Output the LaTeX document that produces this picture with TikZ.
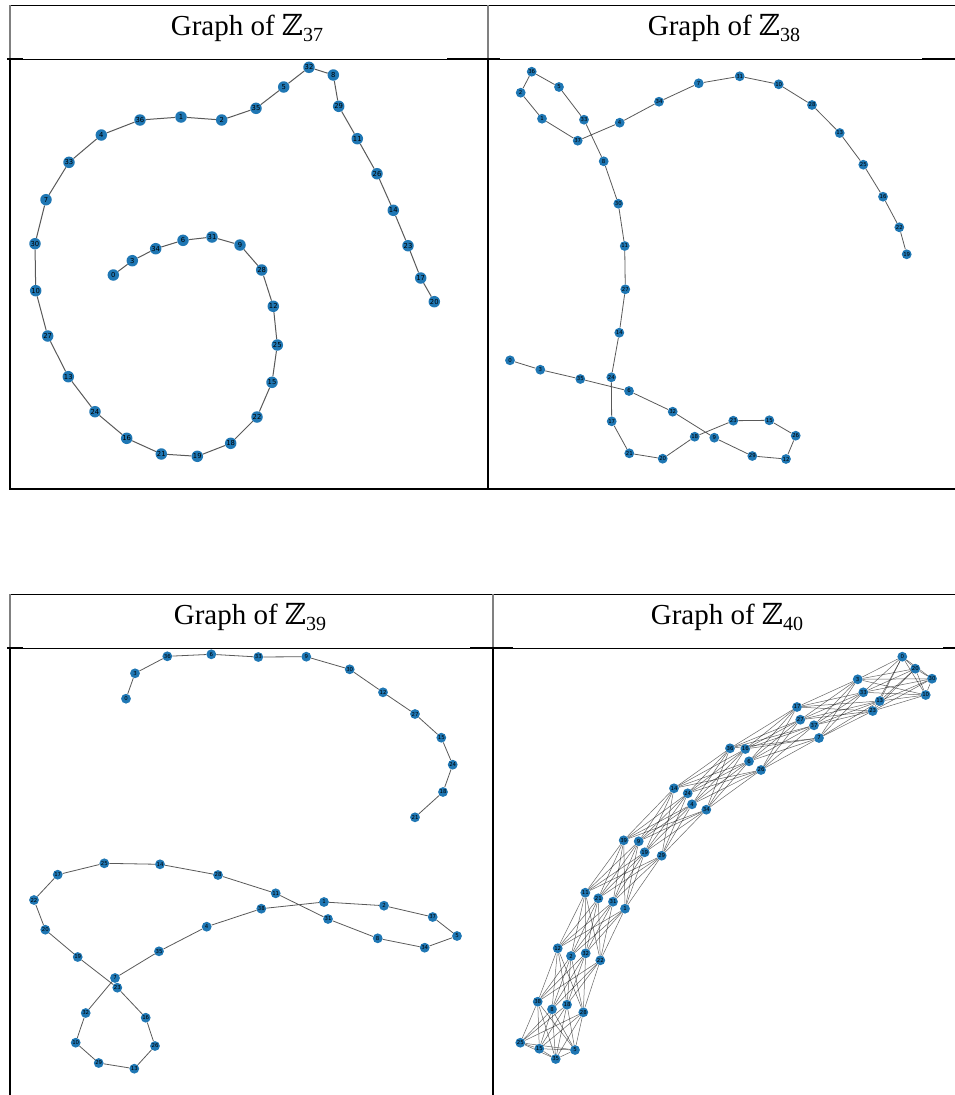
\documentclass[tikz,border=0pt]{standalone}
\usepackage{fontspec}
\setmainfont{Liberation Serif}
\newfontfamily\zfont{DejaVu Serif}
\newfontfamily\lblfont{DejaVu Sans}
\definecolor{mplblue}{HTML}{1F77B4}
\pgfdeclarelayer{bg}
\pgfsetlayers{bg,main}
\tikzset{
  tnode/.style={anchor=base, font=\fontsize{29}{34}\selectfont, inner sep=0pt},
  vbig/.style={circle, fill=mplblue, inner sep=0pt, minimum size=11.5pt, text=black, font=\lblfont\fontsize{6.8}{6.8}\selectfont},
  vsm/.style={circle, fill=mplblue, inner sep=0pt, minimum size=9.8pt, text=black, font=\lblfont\fontsize{5.4}{5.4}\selectfont},
  gedge/.style={draw=black!65, line width=1pt},
  gedgesm/.style={draw=black!65, line width=0.8pt},
  gdense/.style={draw=black, draw opacity=0.6, line width=0.5pt},
  tline/.style={draw=black, line width=1pt},
  tbold/.style={draw=black, line width=2pt},
  hdrv/.style={draw=black!50, line width=2pt},
  bodyv/.style={draw=black, line width=2pt},
}
\newcommand\ZZ[1]{{\zfont ℤ}\raisebox{-6pt}{\fontsize{20}{20}\selectfont #1}}
\begin{document}
\begin{tikzpicture}[x=1pt,y=-1pt]
\useasboundingbox (0,0) rectangle (955,1095);
% ---------- table frames ----------
% top table
\draw[tline] (10,5) -- (955,5);
\draw[hdrv] (10,5) -- (10,59);
\draw[hdrv] (488,5) -- (488,59);
\draw[tline] (10,59) -- (955,59);
\draw[tbold] (7,59) -- (23,59);
\draw[tbold] (447,59) -- (500,59);
\draw[tbold] (922,59) -- (955,59);
\draw[bodyv] (10,59) -- (10,489);
\draw[bodyv] (488,59) -- (488,489);
\draw[draw=black, line width=1.8pt] (9,489) -- (955,489);
% bottom table
\draw[tline] (10,594) -- (955,594);
\draw[hdrv] (10,594) -- (10,648);
\draw[hdrv] (493,594) -- (493,648);
\draw[tline] (10,648) -- (955,648);
\draw[tbold] (7,648) -- (23,648);
\draw[tbold] (470,648) -- (513,648);
\draw[tbold] (943,648) -- (955,648);
\draw[bodyv] (10,648) -- (10,1095);
\draw[bodyv] (493,648) -- (493,1095);
% ---------- titles ----------
\node[tnode] (t37) at (247,35) {Graph of \ZZ{37}};
\node[tnode] (t38) at (724,35) {Graph of \ZZ{38}};
\node[tnode] (t39) at (250,624) {Graph of \ZZ{39}};
\node[tnode] (t40) at (727,624) {Graph of \ZZ{40}};
% ---------- Z37 ----------
\foreach \n/\x/\y in {32/309/67.3, 8/333.3/75, 5/283.7/87, 35/256/108.3, 2/221.7/120, 1/181/117, 36/140/120, 4/101.3/135, 33/69/162.3, 7/46/199.7, 30/35/243.7, 29/338.7/106.3, 11/357.3/138.7, 26/377/173.7, 14/393.3/210.3, 23/408/245.7, 6/183/240.3, 31/212/237, 9/240/245, 34/155.7/248.7, 3/132.3/260.7, 0/113.3/275, 28/261.7/270, 12/273.3/306.3, 25/277.3/345, 15/272/382.3, 22/257/417, 18/230.7/443.3, 19/197.3/456.3, 21/161.3/454, 16/126.7/438.3, 24/95/411.7, 13/68.3/376.7, 27/47.7/336, 10/35.7/290.7, 17/420.7/278, 20/434.3/301.7}
  \node[vbig] (a\n) at (\x,\y) {\n};
% ---------- Z38 ----------
\foreach \n/\x/\y in {36/531.7/71.7, 5/559/87, 2/520.7/92.7, 1/542/118.7, 33/584/119.7, 37/577.7/140.7, 4/619.7/122.7, 34/659/101.7, 7/698.7/83.3, 31/739.7/76.3, 10/778.7/84.3, 28/812/105, 13/839.7/133, 25/863.3/164.7, 16/883/196.7, 22/899.3/227.3, 19/906.7/254.3, 8/603.7/161.3, 30/618.3/203.7, 11/624.7/246, 27/625.3/289.3, 14/619.3/332.7, 24/611.3/377.3, 17/611.7/421.3, 21/629.3/453.3, 20/662.7/458.7, 18/694.7/436.7, 23/733.3/420.7, 15/769.3/420.3, 26/795.7/435.7, 12/786/459, 29/752.3/456, 9/714.3/437.7, 32/672.7/411.7, 6/629/391, 35/580.3/379, 3/540.3/369.7, 0/510/360.3}
  \node[vsm] (b\n) at (\x,\y) {\n};
% ---------- Z39 ----------
\foreach \n/\x/\y in {0/126/698.7, 3/135/673.3, 36/167.3/656.3, 6/211.3/654.3, 33/258.3/657, 9/306.3/656.7, 30/349.7/669.3, 12/383/692.3, 27/415/714, 15/441.3/737.7, 24/452.7/764.7, 18/443/792, 21/415/817.3, 25/104.3/863.3, 14/160/864.3, 17/57.7/874.7, 28/218/875, 11/275.7/893.3, 1/324/902, 2/384/905.7, 37/432.7/917, 5/457/936, 34/424.7/947.7, 8/377.7/938.3, 31/328/919, 38/261.3/908.7, 4/206.7/926.7, 35/159/951.3, 7/115/978, 23/117.3/987.7, 22/34/900, 20/45.3/929.7, 19/77.7/957, 32/85.7/1013, 10/75.7/1042.7, 29/98.7/1063, 13/134.3/1068.7, 26/155/1046, 16/145.7/1017.7}
  \node[vsm] (c\n) at (\x,\y) {\n};
% ---------- Z40 ----------
\foreach \n/\x/\y in {0/902.3/656.7, 20/915.3/668.7, 30/932/678.7, 10/925.7/695, 3/857.7/679.3, 33/863.3/692.3, 13/879.7/701, 23/872.7/711, 17/797/707, 27/800.3/719.7, 37/814/725.3, 7/819/738, 36/730/748.3, 16/745.3/749, 6/749/761.3, 26/761/770, 14/674/788.3, 24/687.7/793.3, 4/692/804.3, 34/706.3/809.7, 39/623.7/840.3, 9/638.7/841.3, 19/644.7/852.3, 29/661.7/855.7, 11/585.3/892.7, 21/598.3/898.3, 31/613/901.7, 1/625/908.7, 12/557.7/948.3, 2/571/956, 32/585.7/953.3, 22/600.3/960.3, 38/537.7/1001.7, 8/552/1009.3, 18/567/1004.7, 28/583.3/1012.3, 25/520.3/1042.7, 15/539.3/1048.7, 35/555.7/1059, 5/575/1050}
  \node[vsm] (d\n) at (\x,\y) {\n};
% ---------- edges ----------
\begin{pgfonlayer}{bg}
\draw[gedge] (a0) -- (a3) -- (a34) -- (a6) -- (a31) -- (a9) -- (a28) -- (a12) -- (a25) -- (a15) -- (a22) -- (a18) -- (a19) -- (a21) -- (a16) -- (a24) -- (a13) -- (a27) -- (a10) -- (a30) -- (a7) -- (a33) -- (a4) -- (a36) -- (a1) -- (a2) -- (a35) -- (a5) -- (a32) -- (a8) -- (a29) -- (a11) -- (a26) -- (a14) -- (a23) -- (a17) -- (a20);
\draw[gedgesm] (b0) -- (b3) -- (b35) -- (b6) -- (b32) -- (b9) -- (b29) -- (b12) -- (b26) -- (b15) -- (b23) -- (b18) -- (b20) -- (b21) -- (b17) -- (b24) -- (b14) -- (b27) -- (b11) -- (b30) -- (b8) -- (b33) -- (b5) -- (b36) -- (b2) -- (b1) -- (b37) -- (b4) -- (b34) -- (b7) -- (b31) -- (b10) -- (b28) -- (b13) -- (b25) -- (b16) -- (b22) -- (b19);
\draw[gedgesm] (c0) -- (c3) -- (c36) -- (c6) -- (c33) -- (c9) -- (c30) -- (c12) -- (c27) -- (c15) -- (c24) -- (c18) -- (c21);
\draw[gedgesm] (c1) -- (c2) -- (c37) -- (c5) -- (c34) -- (c8) -- (c31) -- (c11) -- (c28) -- (c14) -- (c25) -- (c17) -- (c22) -- (c20) -- (c19) -- (c23) -- (c16) -- (c26) -- (c13) -- (c29) -- (c10) -- (c32) -- (c7) -- (c35) -- (c4) -- (c38) -- (c1);
\foreach \p/\q in {0/3,3/7,7/6,6/4,4/9,9/1,1/2,2/8,8/5}
  \foreach \i in {0,10,20,30}
    \foreach \j in {0,10,20,30} {
      \pgfmathtruncatemacro\u{\p+\i}
      \pgfmathtruncatemacro\v{\q+\j}
      \draw[gdense] (d\u) -- (d\v);
    }
\foreach \r in {0,5}
  \foreach \i/\j in {0/10,0/20,0/30,10/20,10/30,20/30} {
    \pgfmathtruncatemacro\u{\r+\i}
    \pgfmathtruncatemacro\v{\r+\j}
    \draw[gdense] (d\u) -- (d\v);
  }
\end{pgfonlayer}
\end{tikzpicture}
\end{document}
